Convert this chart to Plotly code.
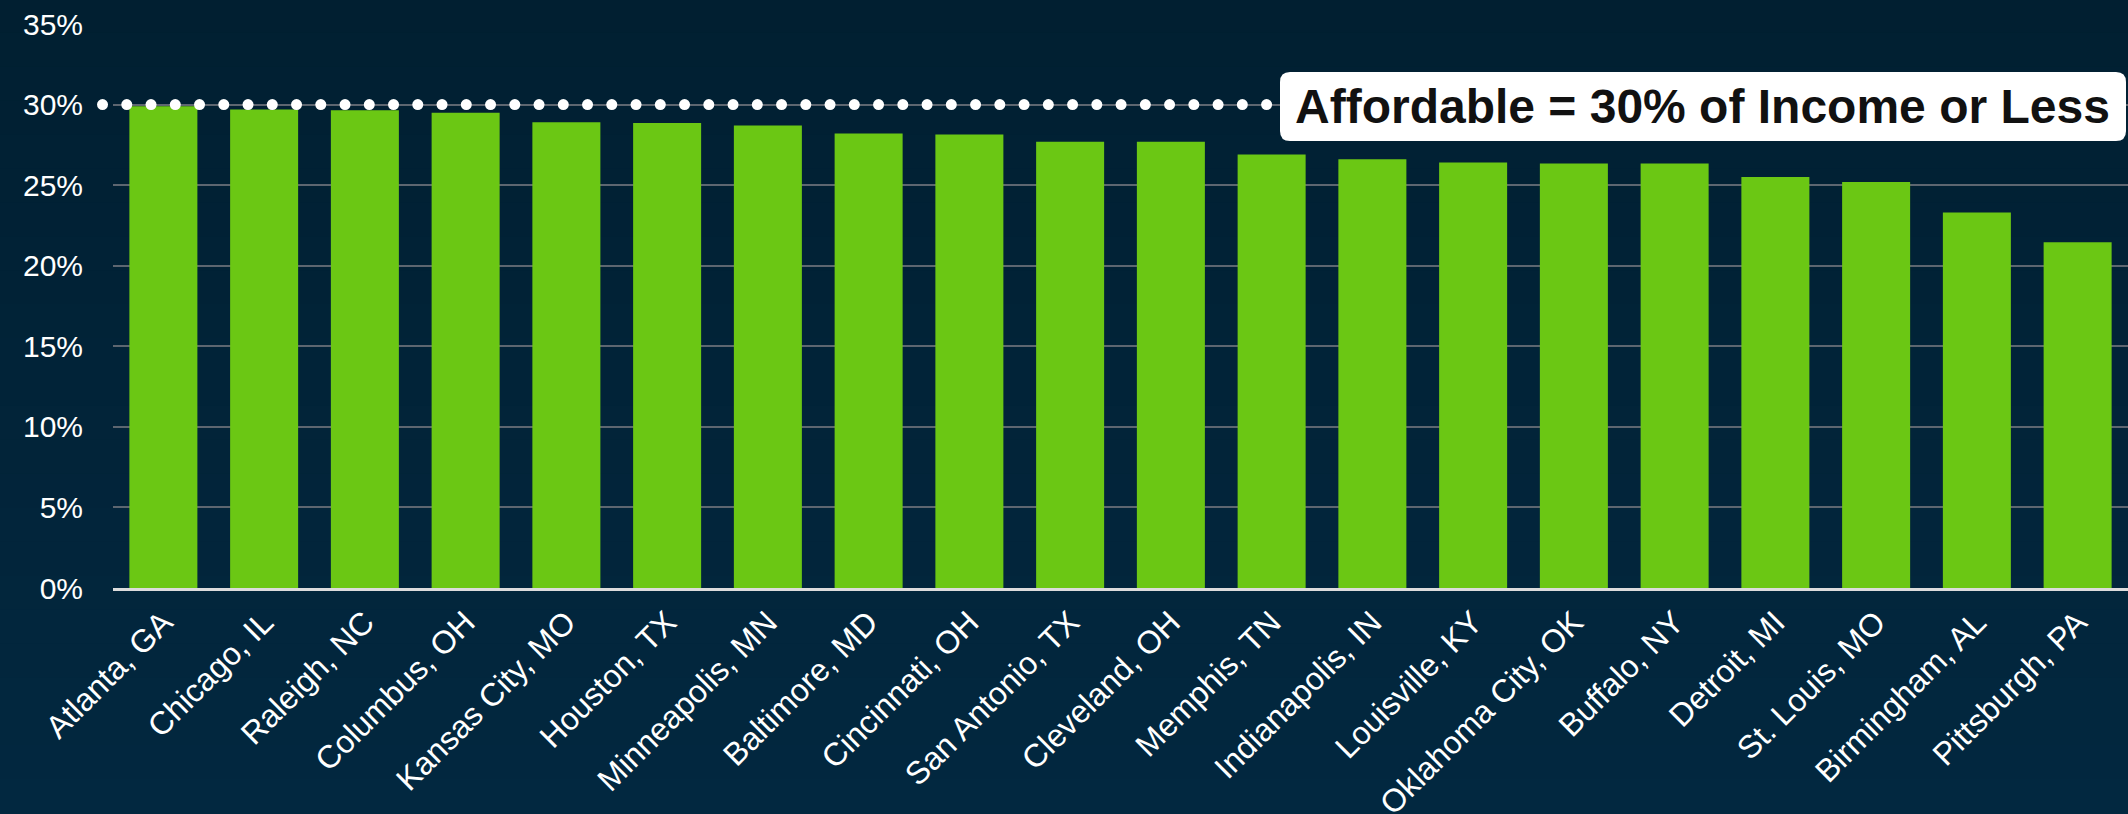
import numpy as np
import plotly.graph_objects as go

# ---- data ----
cities = ["Atlanta, GA", "Chicago, IL", "Raleigh, NC", "Columbus, OH", "Kansas City, MO",
          "Houston, TX", "Minneapolis, MN", "Baltimore, MD", "Cincinnati, OH", "San Antonio, TX",
          "Cleveland, OH", "Memphis, TN", "Indianapolis, IN", "Louisville, KY", "Oklahoma City, OK",
          "Buffalo, NY", "Detroit, MI", "St. Louis, MO", "Birmingham, AL", "Pittsburgh, PA"]
share_of_income = [0.299, 0.297, 0.2965, 0.295, 0.289, 0.2885, 0.287, 0.282, 0.2815, 0.277,
                   0.277, 0.269, 0.266, 0.264, 0.2635, 0.2635, 0.255, 0.252, 0.233, 0.2145]
y_ticks = [0, 0.05, 0.10, 0.15, 0.20, 0.25, 0.30, 0.35]
y_max = 0.35
threshold = 0.30
threshold_label = "Affordable = 30% of Income or Less"

# reference line extent (in category units) and number of dots
dot_start, dot_end, dot_count = -0.604, 10.95, 49

BG_TOP = (1, 31, 49)
BG_BOTTOM = (2, 40, 64)
BAR = "#6bc714"
GRID = "#5d6670"
FONT = "Liberation Sans, Arial, sans-serif"

W, H = 2128, 814
ML, MR, MT, MB = 113, 0, 24, 226
plot_h = H - MT - MB
plot_w = W - ML - MR

fig = go.Figure()
fig.add_trace(go.Bar(x=cities, y=share_of_income, marker=dict(color=BAR, line=dict(width=0)),
                     hoverinfo="x+y"))

shapes = []
# background vertical gradient (bands)
n_bands = 24
top_p = (H - MB) / plot_h  # paper y of figure top
bot_p = -MB / plot_h
for i in range(n_bands):
    t = (i + 0.5) / n_bands
    c = tuple(int(round(BG_TOP[k] + (BG_BOTTOM[k] - BG_TOP[k]) * t)) for k in range(3))
    y1 = top_p - (top_p - bot_p) * i / n_bands
    y0 = top_p - (top_p - bot_p) * (i + 1) / n_bands
    shapes.append(dict(type="rect", xref="paper", yref="paper",
                       x0=-ML / plot_w - 0.01, x1=1.01, y0=y0 - 0.002, y1=y1 + 0.002,
                       fillcolor="rgb(%d,%d,%d)" % c, line=dict(width=0), layer="below"))

# dotted 30% reference line (round dots)
n_cat = len(cities)
for xc in np.linspace(dot_start, dot_end, dot_count):
    shapes.append(dict(type="circle", xref="paper", yref="paper",
                       xsizemode="pixel", ysizemode="pixel",
                       xanchor=(xc + 0.5) / n_cat, yanchor=threshold / y_max,
                       x0=-5.5, x1=5.5, y0=-5.5, y1=5.5,
                       fillcolor="white", line=dict(width=0), layer="above"))

# rounded white label box
x0, x1 = (1280 - ML) / plot_w, (2126 - ML) / plot_w
y1, y0 = (H - MB - 72) / plot_h, (H - MB - 141) / plot_h
rx, ry = 10 / plot_w, 10 / plot_h
path = (f"M {x0+rx},{y0} L {x1-rx},{y0} Q {x1},{y0} {x1},{y0+ry} L {x1},{y1-ry} "
        f"Q {x1},{y1} {x1-rx},{y1} L {x0+rx},{y1} Q {x0},{y1} {x0},{y1-ry} "
        f"L {x0},{y0+ry} Q {x0},{y0} {x0+rx},{y0} Z")
shapes.append(dict(type="path", xref="paper", yref="paper", path=path,
                   fillcolor="white", line=dict(width=0), layer="above"))

fig.update_layout(
    width=W, height=H,
    margin=dict(l=ML, r=MR, t=MT, b=MB, pad=0, autoexpand=False),
    paper_bgcolor="rgb(2,35,57)",
    plot_bgcolor="rgba(0,0,0,0)",
    showlegend=False,
    bargap=0.325,
    font=dict(family=FONT, color="white"),
    shapes=shapes,
    annotations=[dict(xref="paper", yref="paper", x=(x0 + x1) / 2, y=(y0 + y1) / 2,
                      text="<b>" + threshold_label + "</b>", showarrow=False,
                      xanchor="center", yanchor="middle",
                      font=dict(family=FONT, size=48, color="#111111"))],
    xaxis=dict(type="category", tickangle=-45, tickfont=dict(size=32, color="white", family=FONT),
               showgrid=False, showline=True, linecolor="#dcdcdc", linewidth=2.5,
               ticks="", automargin=False, zeroline=False, fixedrange=True),
    yaxis=dict(range=[0, y_max], tickvals=y_ticks, tickformat=".0%",
               tickfont=dict(size=30, color="white", family=FONT),
               showgrid=True, gridcolor=GRID, gridwidth=2, zeroline=False, automargin=False,
               ticks="outside", ticklen=23, tickcolor="rgba(0,0,0,0)", fixedrange=True),
)

fig.write_html("out.html", include_plotlyjs=True, config={"displayModeBar": False},
               post_script="document.body.style.margin='0';document.body.style.overflow='hidden';")
